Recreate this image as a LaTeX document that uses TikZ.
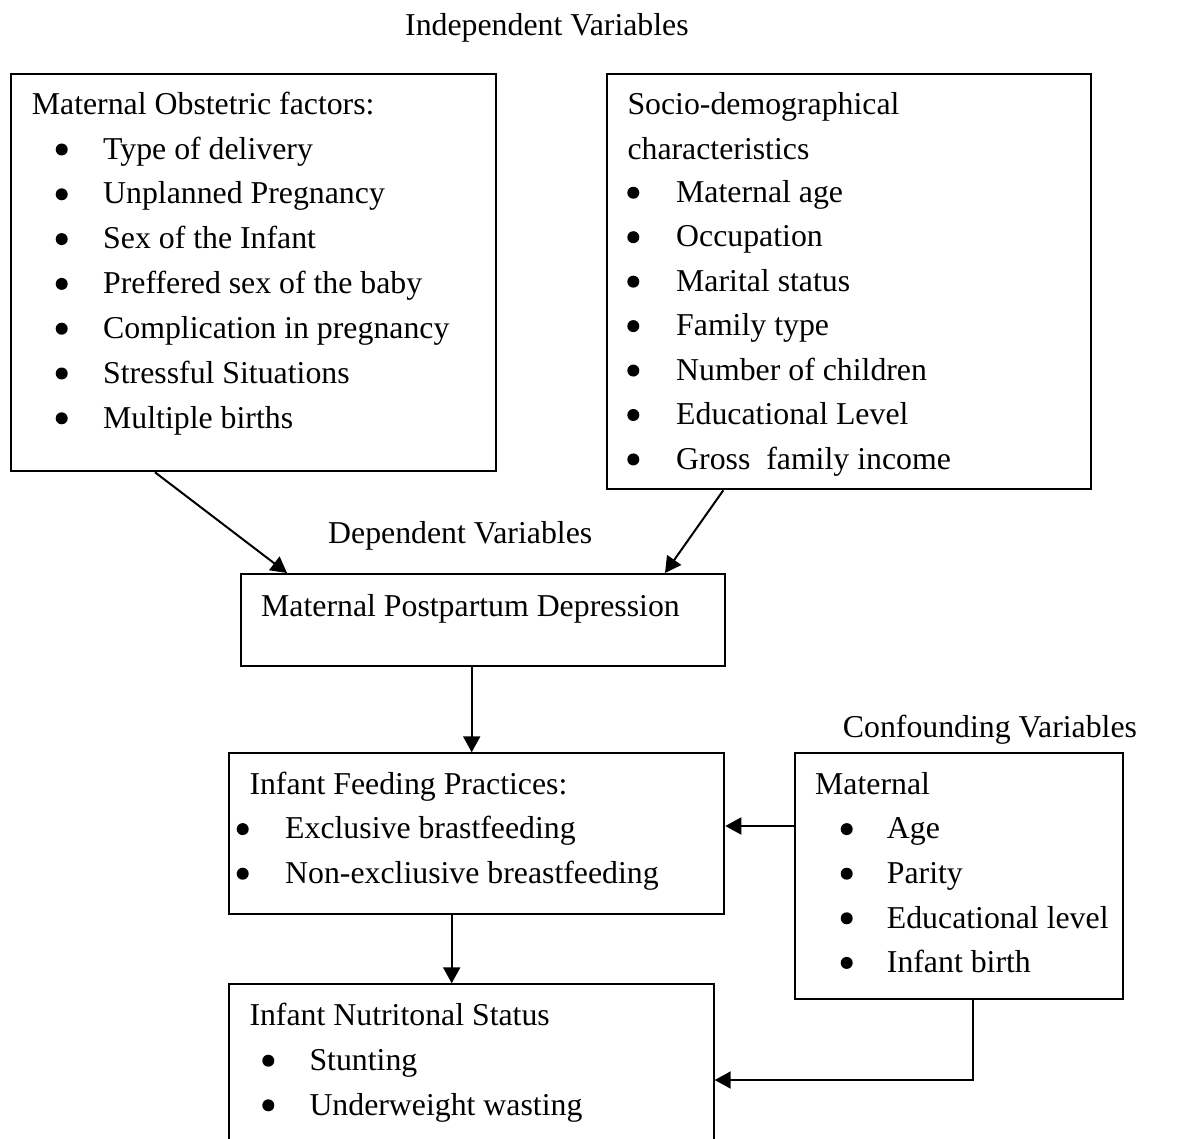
\documentclass[tikz,border=0pt]{standalone}
\usepackage{fontspec}
\setmainfont{Liberation Serif}
\usetikzlibrary{arrows.meta,calc}
\begin{document}
\begin{tikzpicture}[x=1pt,y=-1pt,
  box/.style={draw,line width=2pt,rectangle,inner sep=0pt,anchor=north west},
  txt/.style={inner sep=0pt,anchor=base west,yshift=-2.5pt,font=\fontsize{31.8}{44.6}\selectfont},
  arr/.style={line width=2pt,-{Triangle[length=16pt,width=17pt]}},
  bul/.style={fill=black}]
\path[use as bounding box,clip] (0,0) rectangle (1188,1139);
% boxes
\node[box,minimum width=485,minimum height=397] (b1) at (10,73.3) {};
\node[box,minimum width=484,minimum height=415] (b2) at (606.3,73.3) {};
\node[box,minimum width=484,minimum height=92] (b3) at (240,573) {};
\node[box,minimum width=495,minimum height=160.5] (b4) at (228.3,752.3) {};
\node[box,minimum width=328,minimum height=246.5] (b5) at (794,751.9) {};
\node[box,minimum width=484.4,minimum height=220] (b6) at (228.3,983.3) {};
% headings
\node[txt] (hi) at (405,33.3) {Independent Variables};
\node[txt] (hd) at (328,541) {Dependent Variables};
\node[txt] (hc) at (842.7,735) {Confounding Variables};
% box 1
\node[txt] (t1) at (31.7,111.9) {Maternal Obstetric factors:};
\foreach \i/\s in {1/Type of delivery,2/Unplanned Pregnancy,3/Sex of the Infant,4/Preffered sex of the baby,5/Complication in pregnancy,6/Stressful Situations,7/Multiple births}{
  \node[txt] (t1i\i) at (103,111.9+44.8*\i) {\s};
  \fill[bul] (61.7,111.9+44.8*\i-7.2) circle (6);
}
% box 2
\node[txt] (t2a) at (627.3,112.5) {Socio-demographical};
\node[txt] (t2b) at (627.3,157) {characteristics};
\foreach \i/\s in {1/Maternal age,2/Occupation,3/Marital status,4/Family type,5/Number of children,6/Educational Level,7/Gross\ \ family income}{
  \node[txt] (t2i\i) at (676,155.5+44.45*\i) {\s};
  \fill[bul] (633.3,155.5+44.45*\i-7.2) circle (6);
}
% box 3
\node[txt] (t3) at (261,614) {Maternal Postpartum Depression};
% box 4
\node[txt] (t4) at (249.3,791.7) {Infant Feeding Practices:};
\foreach \i/\s in {1/Exclusive brastfeeding,2/Non-excliusive breastfeeding}{
  \node[txt] (t4i\i) at (285,791.7+44.6*\i) {\s};
  \fill[bul] (242.7,791.7+44.6*\i-7.2) circle (6);
}
% box 5
\node[txt] (t5) at (815,791.7) {Maternal};
\foreach \i/\s in {1/Age,2/Parity,3/Educational level,4/Infant birth}{
  \node[txt] (t5i\i) at (886.7,791.7+44.6*\i) {\s};
  \fill[bul] (846.7,791.7+44.6*\i-7.2) circle (6);
}
% box 6
\node[txt] (t6) at (249.3,1023.3) {Infant Nutritonal Status};
\foreach \i/\s in {1/Stunting,2/Underweight wasting}{
  \node[txt] (t6i\i) at (309.3,1023.3+44.6*\i) {\s};
  \fill[bul] (268.3,1023.3+44.6*\i-7.2) circle (6);
}
% connectors
\draw[arr] ($(b1.south west)+(145,0)$) -- ($(b3.north west)+(47,0)$);
\draw[arr] ($(b2.south west)+(117,0)$) -- ($(b3.north west)+(425,0)$);
\draw[arr] ($(b3.south west)+(231.7,0)$) coordinate (p1) -- (p1 |- b4.north);
\draw[arr] ($(b5.north west)+(0,74.1)$) coordinate (p2) -- (p2 -| b4.east);
\draw[arr] ($(b4.south west)+(223.4,0)$) coordinate (p3) -- (p3 |- b6.north);
\coordinate (c6) at ($(b6.north east)+(0,96.7)$);
\draw[arr] ($(b5.south west)+(179,0)$) coordinate (p4) -- (p4 |- c6) -- (c6);
\end{tikzpicture}
\end{document}
